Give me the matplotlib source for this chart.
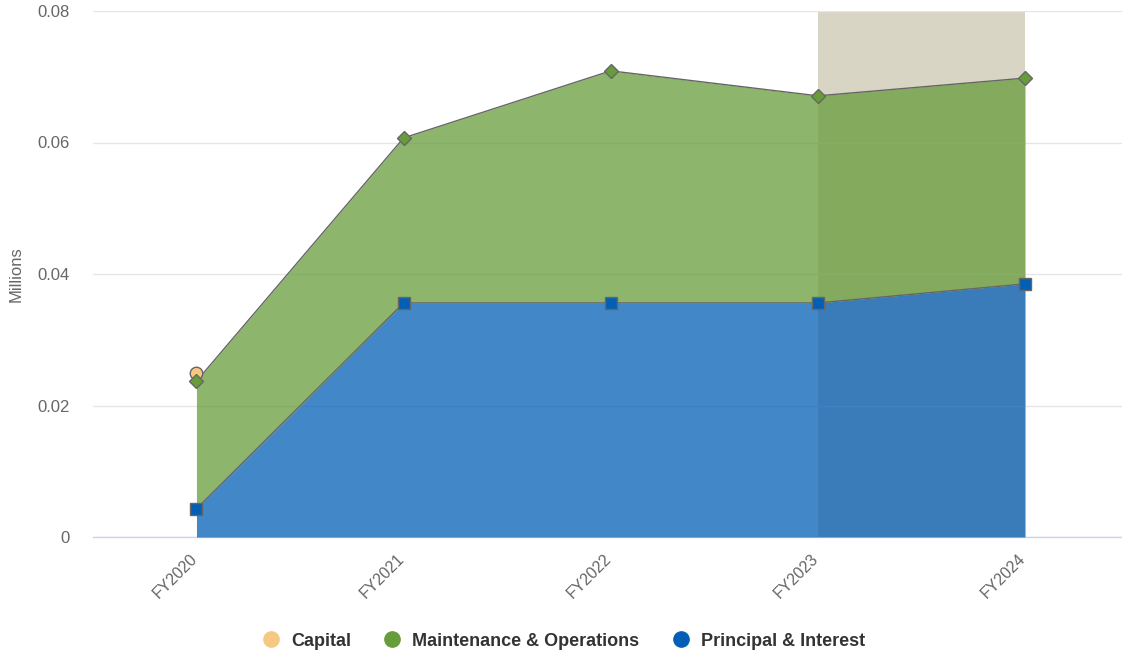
import numpy as np
import matplotlib.pyplot as plt
import matplotlib.transforms as mtransforms
from matplotlib.lines import Line2D

plt.rcParams['font.family'] = ['Liberation Sans', 'DejaVu Sans']

# Budget by fund, in millions
years = ['FY2020', 'FY2021', 'FY2022', 'FY2023', 'FY2024']
principal_interest = [0.0043, 0.0356, 0.0356, 0.0356, 0.0385]
maintenance_ops = [0.0194, 0.0251, 0.0353, 0.0315, 0.0313]
capital = [0.0012, None, None, None, None]

# projected years get a shaded band
band_start, band_end = 'FY2023', 'FY2024'

C_CAPITAL = '#f7c882'
C_MO = '#679c3a'
C_PI = '#035fb6'
C_BAND = '#d9d5c5'
EDGE = '#666666'

x = np.arange(len(years))
pi = np.array(principal_interest)
mo_top = pi + np.array(maintenance_ops)
cap = np.array([np.nan if v is None else v for v in capital])
cap_top = mo_top + cap

fig = plt.figure(figsize=(11.22, 6.56), dpi=100)
W, H = 1122, 656
ax = fig.add_axes([93 / W, (H - 537) / H, (1122 - 93) / W, (537 - 11) / H])

ax.set_xlim(-0.4995, 4.468)
ax.set_ylim(0, 0.08)

# plot band behind everything
ax.axvspan(years.index(band_start), years.index(band_end), color=C_BAND, zorder=0.5, lw=0)

# stacked areas
ax.fill_between(x, 0, pi, color=C_PI, alpha=0.75, lw=0, zorder=2)
ax.fill_between(x, pi, mo_top, color=C_MO, alpha=0.75, lw=0, zorder=2)
ax.plot(x, pi, color=EDGE, lw=1, zorder=3)
ax.plot(x, mo_top, color=EDGE, lw=1, zorder=3)

ax.plot(x, pi, ls='none', marker='s', ms=9, mfc=C_PI, mec=EDGE, mew=1, zorder=4)
ax.plot(x, mo_top, ls='none', marker='D', ms=7.5, mfc=C_MO, mec=EDGE, mew=1, zorder=4)
ax.plot(x, cap_top, ls='none', marker='o', ms=9, mfc=C_CAPITAL, mec=EDGE, mew=1, zorder=3.5)

# axes styling
ax.set_yticks([0, 0.02, 0.04, 0.06, 0.08])
ax.set_yticklabels(['0', '0.02', '0.04', '0.06', '0.08'])
ax.grid(axis='y', color='#e6e6e6', lw=1, zorder=0)
ax.set_axisbelow(True)
for side in ['top', 'right', 'left']:
    ax.spines[side].set_visible(False)
ax.spines['bottom'].set_color('#ccd6eb')
ax.spines['bottom'].set_linewidth(1)
ax.spines['bottom'].set_zorder(1)
ax.tick_params(axis='y', length=0, pad=17, labelsize=12, labelcolor='#666666')
ax.tick_params(axis='x', length=0, pad=10, labelsize=11.5, labelcolor='#666666')
ax.set_xticks(x)
ax.set_xticklabels(years, rotation=45, ha='right', rotation_mode='anchor')
shift = mtransforms.ScaledTranslation(-5 / 72, 0, fig.dpi_scale_trans)
for lbl in ax.get_xticklabels():
    lbl.set_transform(lbl.get_transform() + shift)

fig.text(16 / W, (H - 274) / H, 'Millions', rotation=90, ha='center', va='center',
         fontsize=12, color='#666666')

handles = [
    Line2D([], [], ls='none', marker='o', ms=11, mfc=C_CAPITAL, mec=C_CAPITAL, label='Capital'),
    Line2D([], [], ls='none', marker='o', ms=11, mfc=C_MO, mec=C_MO, label='Maintenance & Operations'),
    Line2D([], [], ls='none', marker='o', ms=11, mfc=C_PI, mec=C_PI, label='Principal & Interest'),
]
leg = fig.legend(handles=handles, loc='center', bbox_to_anchor=(559 / W, (H - 641) / H),
                 ncol=3, frameon=False, handletextpad=0.1, columnspacing=1.3,
                 prop={'weight': 'bold', 'size': 13})
for t in leg.get_texts():
    t.set_color('#333333')

fig.savefig('out.png', dpi=100)
